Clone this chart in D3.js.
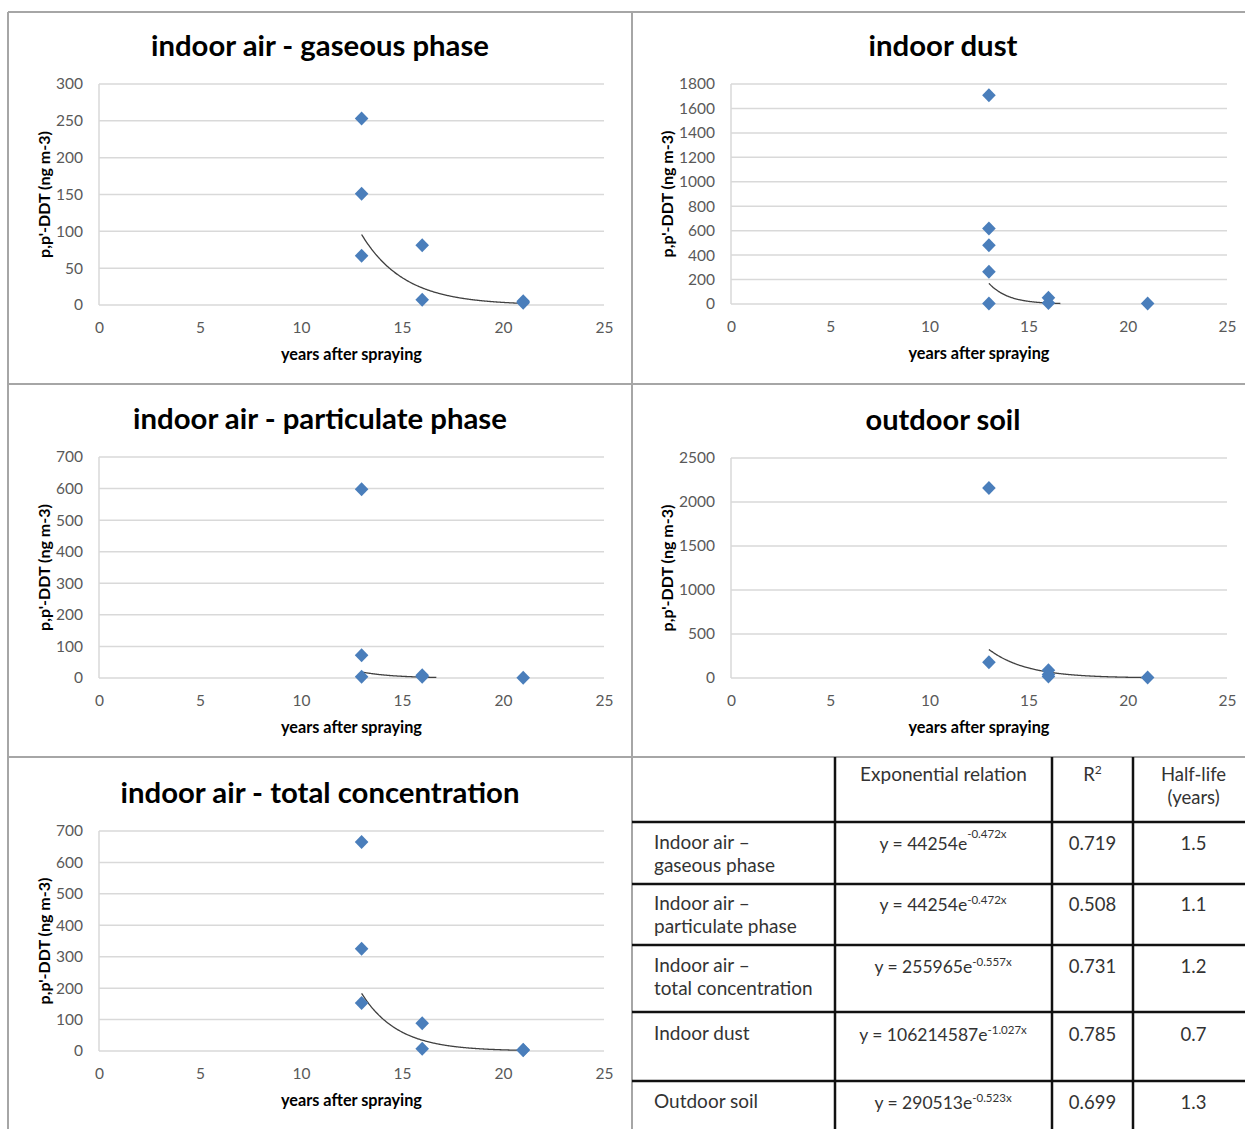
<!DOCTYPE html>
<html><head><meta charset="utf-8">
<script src="https://cdn.jsdelivr.net/npm/d3@7"></script>
<style>
html,body{margin:0;padding:0;background:#fff;}
svg{display:block;}
</style></head>
<body>
<svg id="chart" width="1245" height="1129"></svg>
<script>
// ---------- data ----------
const xTicks = [0, 5, 10, 15, 20, 25];

const gasYears = [13, 13, 13, 16, 16, 21, 21];
const gasConc  = [253, 151, 67, 81, 7, 5, 3];
const gasTicks = [0, 50, 100, 150, 200, 250, 300];
const gasTrend = [44254, -0.472, 13, 21];

const dustYears = [13, 13, 13, 13, 13, 16, 16, 21];
const dustConc  = [1707, 617, 480, 264, 5, 52, 8, 4];
const dustTicks = [0, 200, 400, 600, 800, 1000, 1200, 1400, 1600, 1800];
const dustTrend = [106214587, -1.027, 13, 16.6];

const partYears = [13, 13, 13, 16, 16, 21];
const partConc  = [598, 72, 4, 9, 4, 1];
const partTicks = [0, 100, 200, 300, 400, 500, 600, 700];
const partTrend = [68500, -0.63, 13, 16.7];

const soilYears = [13, 13, 16, 16, 16, 21];
const soilConc  = [2160, 178, 87, 40, 18, 5];
const soilTicks = [0, 500, 1000, 1500, 2000, 2500];
const soilTrend = [290513, -0.523, 13, 21];

const totYears = [13, 13, 13, 16, 16, 21, 21];
const totConc  = [665, 325, 153, 88, 7, 4, 2];
const totTicks = [0, 100, 200, 300, 400, 500, 600, 700];
const totTrend = [255965, -0.557, 13, 21];

const titles = ["indoor air - gaseous phase", "indoor dust", "indoor air - particulate phase",
                "outdoor soil", "indoor air - total concentration"];
const xAxisLabel = "years after spraying";
const yAxisLabel = "p,p'-DDT (ng m-3)";

const tableHeader = ["", "Exponential relation", "R²", "Half-life|(years)"];
const rowLabels = ["Indoor air –|gaseous phase", "Indoor air –|particulate phase",
                   "Indoor air –|total concentration", "Indoor dust", "Outdoor soil"];
const eqCoef = ["44254", "44254", "255965", "106214587", "290513"];
const eqExp  = ["-0.472x", "-0.472x", "-0.557x", "-1.027x", "-0.523x"];
const r2Vals = ["0.719", "0.508", "0.731", "0.785", "0.699"];
const halfLife = ["1.5", "1.1", "1.2", "0.7", "1.3"];

// ---------- drawing ----------
const svg = d3.select("#chart");
const FONT = "Lato, 'Open Sans', sans-serif";

function fit(sel, target) {
  const n = sel.node();
  const w = n.getComputedTextLength();
  const fs = parseFloat(sel.attr("font-size"));
  if (w > 0) sel.attr("font-size", fs * target / w);
}

const panels = [
  {title: titles[0], xs: gasYears, ys: gasConc, ticks: gasTicks, trend: gasTrend,
   fl: 8, fr: 632, x0: 99, x1: 604, y0: 84, y1: 305, tw: 338},
  {title: titles[1], xs: dustYears, ys: dustConc, ticks: dustTicks, trend: dustTrend,
   fl: 632, fr: 1254, x0: 731, x1: 1227, y0: 84, y1: 304, tw: 149},
  {title: titles[2], xs: partYears, ys: partConc, ticks: partTicks, trend: partTrend,
   fl: 8, fr: 632, x0: 99, x1: 604, y0: 457, y1: 678, tw: 374},
  {title: titles[3], xs: soilYears, ys: soilConc, ticks: soilTicks, trend: soilTrend,
   fl: 632, fr: 1254, x0: 731, x1: 1227, y0: 458, y1: 678, tw: 155},
  {title: titles[4], xs: totYears, ys: totConc, ticks: totTicks, trend: totTrend,
   fl: 8, fr: 632, x0: 99, x1: 604, y0: 831, y1: 1051, tw: 399}
];

// panel frame lines
const frame = svg.append("g").attr("stroke", "#a6a6a6").attr("stroke-width", 2);
frame.append("line").attr("x1", 8).attr("x2", 8).attr("y1", 12).attr("y2", 1129);
frame.append("line").attr("x1", 632).attr("x2", 632).attr("y1", 12).attr("y2", 1129);
[12, 384, 757].forEach(y => frame.append("line").attr("x1", 8).attr("x2", 1245).attr("y1", y).attr("y2", y));

panels.forEach(p => {
  const g = svg.append("g");
  const x = d3.scaleLinear().domain([0, 25]).range([p.x0, p.x1]);
  const yMax = p.ticks[p.ticks.length - 1];
  const y = d3.scaleLinear().domain([0, yMax]).range([p.y1, p.y0]);

  // gridlines
  g.append("g").selectAll("line").data(p.ticks).join("line")
    .attr("x1", p.x0).attr("x2", p.x1)
    .attr("y1", d => y(d)).attr("y2", d => y(d))
    .attr("stroke", "#d9d9d9").attr("stroke-width", 1.5);
  g.append("line").attr("x1", p.x0).attr("x2", p.x0).attr("y1", p.y0).attr("y2", p.y1)
    .attr("stroke", "#d9d9d9").attr("stroke-width", 1.5);

  // y axis (labels only)
  const yAx = g.append("g").attr("transform", `translate(${p.x0 - 8},0)`)
    .call(d3.axisLeft(y).tickValues(p.ticks).tickSize(0).tickPadding(8).tickFormat(d3.format("d")));
  yAx.select(".domain").remove();
  yAx.selectAll("text").attr("font-family", FONT).attr("font-size", 15.5).attr("fill", "#595959");

  // x axis (labels only)
  const xAx = g.append("g").attr("transform", `translate(0,${p.y1 + 11})`)
    .call(d3.axisBottom(x).tickValues(xTicks).tickSize(0).tickPadding(6).tickFormat(d3.format("d")));
  xAx.select(".domain").remove();
  xAx.selectAll("text").attr("font-family", FONT).attr("font-size", 15.5).attr("fill", "#595959");

  let maxW = 0;
  yAx.selectAll("text").each(function(){ maxW = Math.max(maxW, this.getComputedTextLength()); });

  // title
  const t = g.append("text").attr("x", (p.fl + p.fr) / 2).attr("y", p.y0 - 28)
    .attr("text-anchor", "middle").attr("font-family", FONT).attr("font-weight", "bold")
    .attr("font-size", 26).attr("fill", "#000").text(p.title);
  fit(t, p.tw);

  // x label
  const xl = g.append("text").attr("x", (p.x0 + p.x1) / 2).attr("y", p.y1 + 55)
    .attr("text-anchor", "middle").attr("font-family", FONT).attr("font-weight", "bold")
    .attr("font-size", 15).attr("fill", "#000").text(xAxisLabel);
  fit(xl, 141);

  // y label
  const yc = (p.y0 + p.y1) / 2;
  const lx = p.x0 - 16 - maxW - 6;
  const yl = g.append("text").attr("transform", `translate(${lx},${yc}) rotate(-90)`)
    .attr("text-anchor", "middle").attr("font-family", FONT).attr("font-weight", "bold")
    .attr("font-size", 13).attr("fill", "#000").text(yAxisLabel);
  fit(yl, 127);

  // trend line
  const [a, b, xs0, xs1] = p.trend;
  const tx = d3.range(xs0, xs1 + 1e-9, 0.05);
  const line = d3.line().x(d => x(d)).y(d => y(a * Math.exp(b * d))).curve(d3.curveBasis);
  g.append("path").datum(tx).attr("d", line).attr("fill", "none")
    .attr("stroke", "#404040").attr("stroke-width", 1.3);

  // points
  const pts = p.xs.map((xv, i) => [xv, p.ys[i]]);
  g.append("g").selectAll("path").data(pts).join("path")
    .attr("transform", d => `translate(${x(d[0])},${y(d[1])})`)
    .attr("d", "M0,-7L6.8,0L0,7L-6.8,0Z")
    .attr("fill", "#4a7ebb");
});

// ---------- table ----------
const tbl = svg.append("g");
const colX = [632, 835, 1052, 1133, 1254];
const tblColor = "#333";

[822, 884, 945, 1012, 1081].forEach(yv =>
  tbl.append("line").attr("x1", 632).attr("x2", 1245).attr("y1", yv).attr("y2", yv)
    .attr("stroke", "#111").attr("stroke-width", 2.5));
[835, 1052, 1133].forEach(xv =>
  tbl.append("line").attr("x1", xv).attr("x2", xv).attr("y1", 757).attr("y2", 1129)
    .attr("stroke", "#111").attr("stroke-width", 2.5));

function cellText(txt, cx, y, anchor, fs) {
  const parts = txt.split("|");
  parts.forEach((s, i) => {
    tbl.append("text").attr("x", cx).attr("y", y + i * 23)
      .attr("text-anchor", anchor).attr("font-family", FONT).attr("font-size", fs)
      .attr("fill", tblColor).text(s);
  });
}
// header
cellText(tableHeader[1], (colX[1] + colX[2]) / 2, 781, "middle", 19);
{
  const r = tbl.append("text").attr("x", (colX[2] + colX[3]) / 2).attr("y", 781)
    .attr("text-anchor", "middle").attr("font-family", FONT).attr("font-size", 18.5).attr("fill", tblColor);
  r.append("tspan").text("R");
  r.append("tspan").attr("font-size", 12).attr("dy", -7).text("2");
}
cellText(tableHeader[3], (colX[3] + colX[4]) / 2, 781, "middle", 18.5);

const rowTextY = [849, 910, 972, 1040, 1108];
rowLabels.forEach((lab, i) => {
  cellText(lab, 654, rowTextY[i], "start", 19);
  const e = tbl.append("text").attr("x", 943).attr("y", rowTextY[i] + 1)
    .attr("text-anchor", "middle").attr("font-family", FONT).attr("font-size", 17.5).attr("fill", tblColor);
  e.append("tspan").text("y = " + eqCoef[i] + "e");
  e.append("tspan").attr("font-size", 11.5).attr("dy", i === 0 ? -12 : -7).text(eqExp[i]);
  cellText(r2Vals[i], (colX[2] + colX[3]) / 2, rowTextY[i] + 1, "middle", 18.5);
  cellText(halfLife[i], (colX[3] + colX[4]) / 2, rowTextY[i] + 1, "middle", 18.5);
});
</script>
</body></html>
